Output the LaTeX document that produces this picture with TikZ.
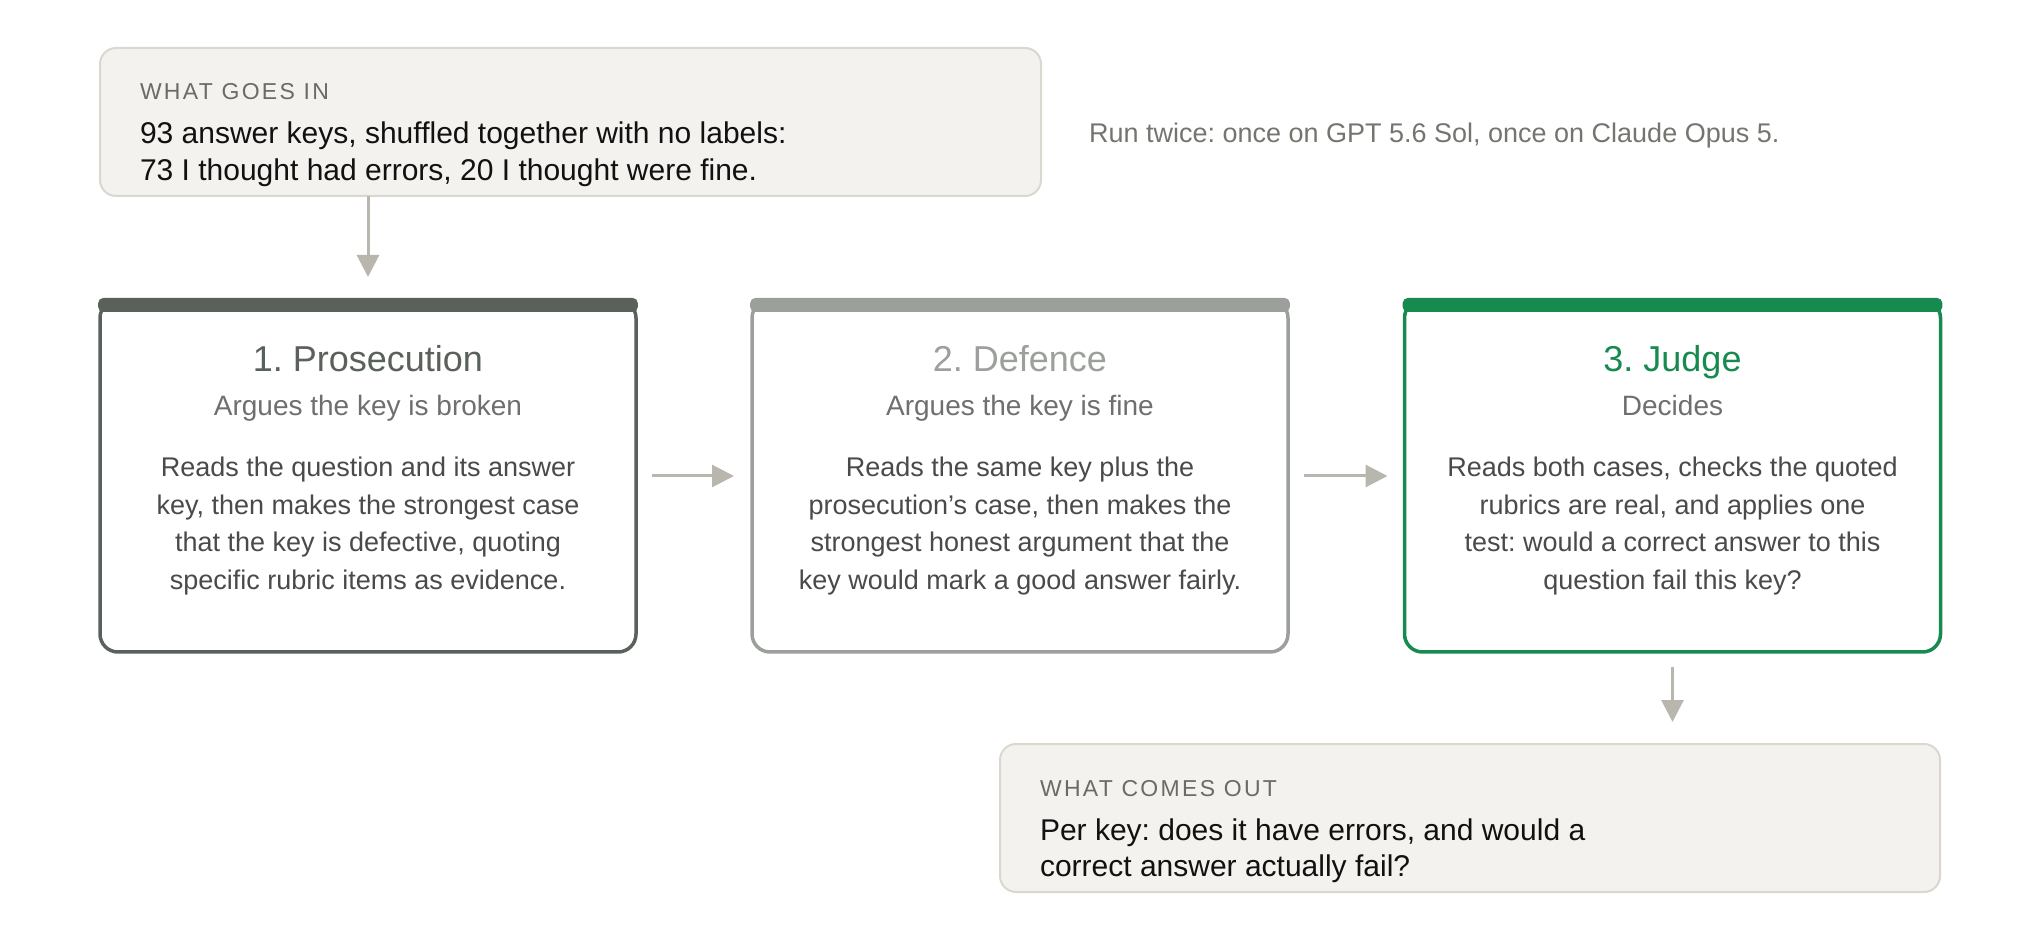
\documentclass[tikz,border=0pt]{standalone}
\usepackage{fontspec}
\setmainfont{Liberation Sans}
\newfontfamily\capsfont[LetterSpace=10]{Liberation Sans}
\usetikzlibrary{arrows.meta,calc}
\definecolor{cone}{HTML}{59615A}
\definecolor{ctwo}{HTML}{9BA09A}
\definecolor{cthree}{HTML}{178A50}
\definecolor{arrowc}{HTML}{B8B6AD}
\definecolor{panelf}{HTML}{F3F2EE}
\definecolor{panelb}{HTML}{D9D7CE}
\definecolor{hdrc}{HTML}{6B6B66}
\definecolor{bodyc}{HTML}{4A4A4A}
\definecolor{subc}{HTML}{6F6F6F}
\definecolor{notec}{HTML}{75756F}
\definecolor{mainc}{HTML}{111111}
\frenchspacing
\begin{document}
\begin{tikzpicture}[x=0.5pt,y=-0.5pt,
  stage/.style={draw, line width=1.75pt, rounded corners=9pt, minimum width=268pt, minimum height=176pt, inner sep=0pt, outer sep=0pt, fill=white},
  panel/.style={draw=panelb, line width=1pt, fill=panelf, rounded corners=8pt, minimum width=470.5pt, minimum height=74pt, inner sep=0pt, outer sep=0pt},
  arr/.style={draw=arrowc, line width=1.5pt, -{Triangle[length=11pt,width=11pt]}},
  txt/.style={inner sep=0pt, outer sep=0pt},
  hdr/.style={txt, anchor=base west, text=hdrc, font=\capsfont\fontsize{11.5pt}{14pt}\selectfont},
  maintext/.style={txt, anchor=base west, text=mainc, font=\fontsize{15pt}{18pt}\selectfont},
  note/.style={txt, anchor=base west, text=notec, font=\fontsize{13.5pt}{16pt}\selectfont},
  ttl/.style={txt, anchor=base, font=\fontsize{18pt}{21pt}\selectfont},
  sub/.style={txt, anchor=base, text=subc, font=\fontsize{14pt}{17pt}\selectfont},
  body/.style={txt, anchor=base, text=bodyc, font=\fontsize{13.5pt}{16pt}\selectfont}
]
\useasboundingbox (0,0) rectangle (2040,940);

% input panel
\node[panel] (in) at (570.5,122) {};
\node[hdr] (inh) at (140,100) {WHAT GOES IN};
\node[maintext] (inone) at (140,144) {93 answer keys, shuffled together with no labels:};
\node[maintext] (intwo) at (140,180.5) {73 I thought had errors, 20 I thought were fine.};
\node[note] (run) at (1089,143) {Run twice: once on GPT 5.6 Sol, once on Claude Opus 5.};

% stages
\node[stage, draw=cone] (p1) at (368,476) {};
\node[stage, draw=ctwo] (p2) at (1020,476) {};
\node[stage, draw=cthree] (p3) at (1672.5,476) {};
\fill[cone, rounded corners=2.5pt] ($(p1.north west)+(-0.9pt,1pt)$) rectangle ($(p1.north east)+(0.9pt,-6pt)$);
\fill[ctwo, rounded corners=2.5pt] ($(p2.north west)+(-0.9pt,1pt)$) rectangle ($(p2.north east)+(0.9pt,-6pt)$);
\fill[cthree, rounded corners=2.5pt] ($(p3.north west)+(-0.9pt,1pt)$) rectangle ($(p3.north east)+(0.9pt,-6pt)$);

% stage 1 text
\node[ttl, text=cone] (p1t) at (368,372) {1. Prosecution};
\node[sub] (p1s) at (368,416) {Argues the key is broken};
\node[body] (p1a) at (368,477) {Reads the question and its answer};
\node[body] (p1b) at (368,514.5) {key, then makes the strongest case};
\node[body] (p1c) at (368,552) {that the key is defective, quoting};
\node[body] (p1d) at (368,590) {specific rubric items as evidence.};

% stage 2 text
\node[ttl, text=ctwo] (p2t) at (1020,372) {2. Defence};
\node[sub] (p2s) at (1020,416) {Argues the key is fine};
\node[body] (p2a) at (1020,477) {Reads the same key plus the};
\node[body] (p2b) at (1020,514.5) {prosecution’s case, then makes the};
\node[body] (p2c) at (1020,552) {strongest honest argument that the};
\node[body] (p2d) at (1020,590) {key would mark a good answer fairly.};

% stage 3 text
\node[ttl, text=cthree] (p3t) at (1672.5,372) {3. Judge};
\node[sub] (p3s) at (1672.5,416) {Decides};
\node[body] (p3a) at (1672.5,477) {Reads both cases, checks the quoted};
\node[body] (p3b) at (1672.5,514.5) {rubrics are real, and applies one};
\node[body] (p3c) at (1672.5,552) {test: would a correct answer to this};
\node[body] (p3d) at (1672.5,590) {question fail this key?};

% output panel
\node[panel, minimum width=470pt] (out) at (1470,818) {};
\node[hdr] (outh) at (1040,796) {WHAT COMES OUT};
\node[maintext] (outone) at (1040,840) {Per key: does it have errors, and would a};
\node[maintext] (outtwo) at (1040,876) {correct answer actually fail?};

% connectors
\draw[arr, shorten >=11.5pt] (p1.north |- in.south) -- (p1.north);
\draw[arr, shorten <=8pt, shorten >=9pt] (p1.east) -- (p2.west);
\draw[arr, shorten <=8pt, shorten >=8.5pt] (p2.east) -- (p3.west);
\draw[arr, shorten <=7.5pt, shorten >=11pt] (p3.south) -- (p3.south |- out.north);
\end{tikzpicture}
\end{document}
